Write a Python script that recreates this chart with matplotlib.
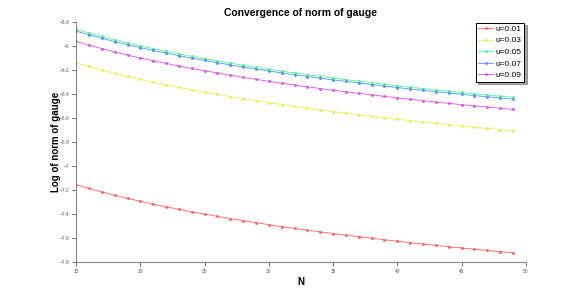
import matplotlib.pyplot as plt

plt.rcParams['font.family'] = ['Liberation Sans', 'DejaVu Sans']

# Data
N = list(range(15, 50))
labels = ['υ=0.01', 'υ=0.03', 'υ=0.05', 'υ=0.07', 'υ=0.09']
colors = ['#ff6060', '#e8f050', '#50f0a0', '#5098f0', '#e050f0']

g001 = [-7.156, -7.187, -7.216, -7.244, -7.270, -7.294, -7.318, -7.340, -7.361, -7.382,
        -7.401, -7.420, -7.438, -7.456, -7.472, -7.489, -7.505, -7.520, -7.535, -7.549,
        -7.563, -7.576, -7.589, -7.602, -7.615, -7.627, -7.639, -7.650, -7.662, -7.673,
        -7.683, -7.694, -7.704, -7.714, -7.724]
g003 = [-6.139, -6.170, -6.199, -6.227, -6.253, -6.277, -6.301, -6.323, -6.344, -6.365,
        -6.384, -6.403, -6.421, -6.439, -6.455, -6.472, -6.488, -6.503, -6.518, -6.532,
        -6.546, -6.559, -6.572, -6.585, -6.598, -6.610, -6.622, -6.633, -6.645, -6.656,
        -6.666, -6.677, -6.687, -6.697, -6.707]
g005 = [-5.860, -5.891, -5.920, -5.948, -5.974, -5.998, -6.022, -6.044, -6.065, -6.086,
        -6.105, -6.124, -6.142, -6.160, -6.176, -6.193, -6.209, -6.224, -6.239, -6.253,
        -6.267, -6.280, -6.293, -6.306, -6.319, -6.331, -6.343, -6.354, -6.366, -6.377,
        -6.387, -6.398, -6.408, -6.418, -6.428]
g007 = [-5.875, -5.906, -5.935, -5.963, -5.989, -6.013, -6.037, -6.059, -6.080, -6.101,
        -6.120, -6.139, -6.157, -6.175, -6.191, -6.208, -6.224, -6.239, -6.254, -6.268,
        -6.282, -6.295, -6.308, -6.321, -6.334, -6.346, -6.358, -6.369, -6.381, -6.392,
        -6.402, -6.413, -6.423, -6.433, -6.443]
g009 = [-5.961, -5.992, -6.021, -6.049, -6.075, -6.099, -6.123, -6.145, -6.166, -6.187,
        -6.206, -6.225, -6.243, -6.261, -6.277, -6.294, -6.310, -6.325, -6.340, -6.354,
        -6.368, -6.381, -6.394, -6.407, -6.420, -6.432, -6.444, -6.455, -6.467, -6.478,
        -6.488, -6.499, -6.509, -6.519, -6.529]
series = [g001, g003, g005, g007, g009]

fig = plt.figure(figsize=(5.81, 2.94), dpi=100)
ax = fig.add_axes([0.131, 0.109, 0.774, 0.816])

for vals, lab, col in zip(series, labels, colors):
    ax.plot(N, vals, color=col, lw=0.6, marker='.', markersize=2.2, label=lab)

ax.set_xlim(15, 50)
ax.set_ylim(-7.8, -5.8)
ax.set_xticks([15, 20, 25, 30, 35, 40, 45, 50])
ax.set_yticks([-5.8, -6, -6.2, -6.4, -6.6, -6.8, -7, -7.2, -7.4, -7.6, -7.8])
ax.set_yticklabels(['\u22125.8', '\u22126', '\u22126.2', '\u22126.4', '\u22126.6', '\u22126.8',
                    '\u22127', '\u22127.2', '\u22127.4', '\u22127.6', '\u22127.8'])
ax.tick_params(labelsize=3.5, colors='#555555', length=3, width=0.6, pad=2)
for s in ['top', 'right']:
    ax.spines[s].set_visible(False)
for s in ['left', 'bottom']:
    ax.spines[s].set_color('#888888')
    ax.spines[s].set_linewidth(0.8)

ax.set_title('Convergence of norm of gauge', fontsize=7.5, fontweight='bold', pad=4)
ax.set_xlabel('N', fontsize=7, fontweight='bold', labelpad=2)
ax.set_ylabel('Log of norm of gauge', fontsize=7, fontweight='bold', labelpad=-1)

leg = ax.legend(loc='upper right', bbox_to_anchor=(1.0, 1.005), fontsize=6, frameon=True,
                fancybox=False, shadow=True, handlelength=1.8, handletextpad=0.3,
                borderpad=0.3, labelspacing=0.45, borderaxespad=0.2)
leg.get_frame().set_edgecolor('black')
leg.get_frame().set_linewidth(0.7)

fig.savefig('out.png', dpi=100)
